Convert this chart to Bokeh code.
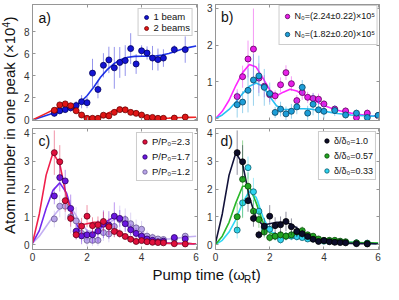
import numpy as np
from bokeh.plotting import figure
from bokeh.layouts import row, column
from bokeh.models import (LinearAxis, Range1d, Legend, LegendItem, Label,
                          FixedTicker, ColumnDataSource, CustomLabelingPolicy)
from bokeh.embed import file_html
from bokeh.resources import INLINE

# ---------------- data ----------------
# panel a
xa = [0.8, 1.0, 1.2, 1.4, 1.6, 1.8, 2.0, 2.2, 2.4, 2.6, 2.8, 3.0, 3.2, 3.4, 3.6,
      3.8, 4.0, 4.2, 4.4, 4.6, 4.8, 5.2, 5.6]
a_one = [0.6, 0.83, 0.94, 1.1, 1.31, 1.66, 1.57, 4.26, 2.77, 4.97, 5.46, 4.74, 5.23,
         5.4, 6.49, 5.09, 6.29, 6.09, 5.63, 5.49, 5.63, 6.4, 6.4]
a_one_err = [0.3, 0.3, 0.3, 0.35, 0.4, 0.6, 0.5, 1.3, 0.8, 1.1, 1.2, 1.9, 1.4, 1.4,
             1.4, 0.9, 0.5, 0.6, 1.1, 1.0, 0.8, 0.4, 1.2]
a_two = [0.88, 1.37, 1.46, 1.29, 0.83, 0.45, 0.15, 0.15, 0.15, 0.43, 0.37, 0.69, 0.94,
         0.92, 0.69, 0.6, 0.45, 0.23, 0.23, 0.15, 0.15, 0.17, 0.26]
a_two_err = [0.25, 0.2, 0.2, 0.2, 0.15, 0.1, 0.1, 0.1, 0.1, 0.1, 0.1, 0.3, 0.2, 0.15,
             0.1, 0.1, 0.1, 0.1, 0.1, 0.1, 0.1, 0.1, 0.1]

# fit curves sampled every 0.25
xf = [0.0, 0.25, 0.5, 0.75, 1.0, 1.25, 1.5, 1.75, 2.0, 2.25, 2.5, 2.75, 3.0, 3.25,
      3.5, 3.75, 4.0, 4.25, 4.5, 4.75, 5.0, 5.25, 5.5, 5.75, 6.0]
a_one_fit = [0, 0.2, 0.4, 0.6, 0.8, 1.0, 1.25, 1.6, 2.2, 3.0, 3.9, 4.6, 5.15, 5.5, 5.7,
             5.78, 5.8, 5.8, 5.82, 5.9, 6.05, 6.25, 6.45, 6.6, 6.72]
a_two_fit = [0, 0.3, 0.6, 0.9, 1.25, 1.42, 1.1, 0.55, 0.22, 0.15, 0.3, 0.6, 0.85, 0.92,
             0.82, 0.6, 0.38, 0.22, 0.16, 0.15, 0.17, 0.2, 0.22, 0.23, 0.24]

# panel b
xb = [0.8, 1.0, 1.2, 1.4, 1.6, 1.8, 2.0, 2.2, 2.4, 2.6, 2.8, 3.0, 3.2, 3.4, 3.6,
      3.8, 4.0, 4.4, 4.8, 5.2, 5.6, 6.0]
b_hi = [0.6, 1.14, 1.62, 1.89, 1.1, 0.88, 0.65, 0.62, 0.92, 1.25, 0.95, 0.49, 0.71,
        0.58, 0.55, 0.53, 0.4, 0.26, 0.21, 0.03, 0.15, 0.08]
b_hi_err = [0.2, 0.3, 0.5, 1.1, 0.4, 0.3, 0.2, 0.15, 0.2, 0.2, 0.2, 0.15, 0.2, 0.15,
            0.15, 0.15, 0.1, 0.1, 0.1, 0.1, 0.1, 0.05]
b_lo = [0.38, 0.45, 0.77, 1.05, 1.16, 0.85, 0.68, 0.17, 0.26, 0.13, 0.2, 0.32, 0.85,
        0.15, 0.39, 0.24, 0.2, 0.22, 0.1, 0.15, 0.03, 0.09]
b_lo_err = [0.35, 0.3, 0.6, 0.7, 0.55, 0.5, 0.3, 0.15, 0.2, 0.2, 0.2, 0.2, 0.2, 0.2,
            0.3, 0.3, 0.2, 0.15, 0.1, 0.1, 0.1, 0.05]
b_hi_fit = [0, 0.2, 0.5, 0.9, 1.25, 1.47, 1.4, 1.1, 0.78, 0.62, 0.72, 0.8, 0.75, 0.65,
            0.55, 0.45, 0.36, 0.29, 0.23, 0.19, 0.15, 0.12, 0.1, 0.08, 0.07]
b_lo_fit = [0, 0.1, 0.25, 0.45, 0.68, 0.88, 0.97, 0.88, 0.6, 0.35, 0.25, 0.25, 0.27,
            0.27, 0.26, 0.23, 0.2, 0.17, 0.14, 0.12, 0.1, 0.09, 0.08, 0.07, 0.07]

# panel c (and d)
xc = [0.8, 1.0, 1.2, 1.4, 1.6, 1.8, 2.0, 2.2, 2.4, 2.6, 2.8, 3.0, 3.2, 3.4, 3.6,
      3.8, 4.0, 4.2, 4.4, 4.6, 4.8, 5.2, 5.6]
c_23 = [3.31, 2.98, 1.58, 0.94, 0.35, 0.66, 1.02, 0.68, 0.71, 0.83, 0.64, 0.47, 0.39,
        0.29, 0.19, 0.11, 0.14, 0.1, 0.08, 0.07, 0.06, 0.03, 0.02]
c_23_err = [0.8, 0.6, 0.4, 0.3, 0.15, 0.3, 0.4, 0.3, 0.3, 0.35, 0.3, 0.2, 0.15, 0.1,
            0.1, 0.1, 0.1, 0.05, 0.05, 0.05, 0.05, 0.05, 0.05]
c_17 = [1.75, 2.41, 2.29, 1.3, 0.48, 0.31, 0.35, 0.35, 0.48, 0.73, 0.7, 1.02, 0.94,
        0.75, 0.53, 0.4, 0.3, 0.2, 0.15, 0.1, 0.12, 0.25, 0.2]
c_17_err = [0.3, 0.5, 0.4, 0.5, 0.3, 0.3, 0.2, 0.3, 0.4, 0.5, 0.5, 0.5, 0.3, 0.3, 0.2,
            0.2, 0.15, 0.1, 0.1, 0.1, 0.1, 0.1, 0.1]
c_12 = [0.92, 1.38, 1.38, 1.0, 0.85, 0.4, 0.15, 0.15, 0.15, 0.43, 0.38, 0.65, 0.9,
        0.9, 0.75, 0.6, 0.55, 0.3, 0.25, 0.2, 0.18, 0.2, 0.3]
c_12_err = [0.3, 0.4, 0.5, 0.6, 0.5, 0.3, 0.2, 0.2, 0.2, 0.3, 0.3, 0.4, 0.5, 0.4, 0.4,
            0.3, 0.3, 0.2, 0.15, 0.1, 0.1, 0.1, 0.1]
c_23_fit = [0.05, 1.1, 2.5, 3.3, 2.9, 1.7, 0.95, 0.7, 0.75, 0.8, 0.8, 0.75, 0.6, 0.42,
            0.28, 0.18, 0.12, 0.08, 0.06, 0.05, 0.04, 0.03, 0.03, 0.03, 0.02]
c_17_fit = [0.05, 0.5, 1.3, 1.95, 2.22, 1.85, 1.0, 0.45, 0.35, 0.4, 0.6, 0.85, 1.0,
            0.9, 0.65, 0.4, 0.22, 0.12, 0.08, 0.06, 0.05, 0.04, 0.04, 0.03, 0.02]
c_12_fit = [0.05, 0.3, 0.65, 1.0, 1.3, 1.42, 1.2, 0.8, 0.5, 0.45, 0.55, 0.75, 0.9,
            0.95, 0.85, 0.65, 0.45, 0.3, 0.22, 0.2, 0.2, 0.22, 0.25, 0.28, 0.3]

# panel d
d_10 = c_23
d_10_err = c_23_err
d_057 = [1.0, 2.35, 2.1, 1.2, 0.9, 0.45, 0.25, 0.3, 0.35, 0.3, 0.35, 0.45, 0.5, 0.35,
         0.3, 0.2, 0.15, 0.15, 0.15, 0.12, 0.1, 0.06, 0.04]
d_057_err = [0.5, 1.4, 0.5, 0.4, 0.3, 0.2, 0.15, 0.15, 0.15, 0.15, 0.15, 0.15, 0.15,
             0.1, 0.1, 0.1, 0.1, 0.1, 0.1, 0.05, 0.05, 0.05, 0.05]
d_033 = [0.52, 1.5, 2.77, 1.9, 1.2, 0.6, 0.55, 0.3, 0.17, 0.3, 0.3, 0.28, 0.25, 0.2,
         0.2, 0.15, 0.12, 0.12, 0.1, 0.1, 0.08, 0.06, 0.05]
d_033_err = [0.3, 0.5, 0.4, 0.5, 0.4, 0.3, 0.2, 0.15, 0.15, 0.15, 0.15, 0.15, 0.1,
             0.1, 0.1, 0.1, 0.1, 0.1, 0.1, 0.05, 0.05, 0.05, 0.05]
d_10_fit = c_23_fit
d_057_fit = [0, 0.3, 0.8, 1.5, 2.1, 2.1, 1.5, 0.8, 0.42, 0.32, 0.33, 0.38, 0.42, 0.4,
             0.33, 0.25, 0.18, 0.14, 0.11, 0.09, 0.08, 0.07, 0.06, 0.06, 0.05]
d_033_fit = [0, 0.15, 0.45, 0.9, 1.5, 1.93, 1.7, 1.0, 0.5, 0.35, 0.3, 0.3, 0.3, 0.28,
             0.25, 0.2, 0.16, 0.13, 0.11, 0.09, 0.08, 0.06, 0.05, 0.04, 0.04]

x_ticks = [0, 2, 4, 6]

# ---------------- styling helpers ----------------
FONT = "Liberation Sans"
FRAME = "#969696"
TICKTXT = "#333333"
INK = "#111111"
NO_LABELS = "return []"


def style_axis(ax, ticks, labels):
    ax.ticker = FixedTicker(ticks=ticks)
    ax.axis_line_color = FRAME
    ax.major_tick_line_color = FRAME
    ax.major_tick_in = 3
    ax.major_tick_out = 0
    ax.minor_tick_line_color = None
    ax.major_label_text_font = FONT
    ax.major_label_text_color = TICKTXT
    if labels:
        ax.major_label_text_font_size = "10px"
        ax.major_label_standoff = 3
    else:
        # tick marks only: no label is drawn
        ax.major_label_text_font_size = "1px"
        ax.major_label_standoff = 0
        ax.major_label_policy = CustomLabelingPolicy(code=NO_LABELS)


def panel(w, h, ylim, yticks, bl, bt, bb, show_x):
    p = figure(width=w, height=h, x_range=Range1d(0, 6.05), y_range=Range1d(*ylim),
               output_backend="svg", toolbar_location=None,
               min_border_left=bl, min_border_right=2, min_border_top=bt,
               min_border_bottom=bb)
    p.grid.visible = False
    p.outline_line_color = FRAME
    p.background_fill_color = "white"
    p.border_fill_color = "white"
    style_axis(p.xaxis[0], x_ticks, show_x)
    style_axis(p.yaxis[0], yticks, True)
    top = LinearAxis()
    style_axis(top, x_ticks, False)
    p.add_layout(top, "above")
    right = LinearAxis()
    style_axis(right, yticks, False)
    p.add_layout(right, "right")
    return p


def series(p, x, y, err, fill, edge):
    y = np.array(y, dtype=float)
    e = np.array(err, dtype=float)
    src = ColumnDataSource(dict(x=x, y=y, lo=y - e, hi=y + e))
    p.segment(x0="x", y0="lo", x1="x", y1="hi", source=src, line_color=fill,
              line_alpha=0.45, line_width=1)
    return p.scatter("x", "y", source=src, size=6, fill_color=fill, line_color=edge,
                     line_width=0.8)


def fit(p, y, color):
    p.line(xf, y, line_color=color, line_width=1.6)


def legend(p, items, fs, row_h, spacing, margin):
    lg = Legend(items=[LegendItem(label=l, renderers=[r]) for l, r in items],
                location="top_right", margin=margin, padding=2, spacing=spacing,
                glyph_width=11, glyph_height=row_h, label_height=row_h,
                label_width=0, label_standoff=2, label_text_font=FONT,
                label_text_font_size=fs,
                label_text_color=INK, border_line_color="#9a9a9a",
                border_line_width=1, background_fill_alpha=1.0)
    p.add_layout(lg)


def tag(p, x, y, text):
    p.add_layout(Label(x=x, y=y, text=text, text_font=FONT, text_font_size="14px",
                       text_baseline="middle", text_color=INK))


# ---------------- panels ----------------
TOP_H, BOT_H = 124, 141
YW = 20
LW, RW = 181, 182

pa = panel(LW, TOP_H, (-0.05, 10.5), [0, 2, 4, 6, 8], 11, 1, 4, False)
fit(pa, a_one_fit, "#1f34e8")
fit(pa, a_two_fit, "#f02424")
ra1 = series(pa, xa, a_one, a_one_err, "#1414d4", "#00005a")
ra2 = series(pa, xa, a_two, a_two_err, "#e01616", "#6a0000")
legend(pa, [("1 beam", ra1), ("2 beams", ra2)], "9.5px", 10, 0, 4)
tag(pa, 0.22, 9.3, "a)")

pb = panel(RW, TOP_H, (-0.05, 3.1), [0, 1, 2, 3], 14, 1, 4, False)
fit(pb, b_hi_fit, "#ff26ff")
fit(pb, b_lo_fit, "#28c0f2")
rb1 = series(pb, xb, b_hi, b_hi_err, "#e81ee8", "#5a005a")
rb2 = series(pb, xb, b_lo, b_lo_err, "#1c9ed8", "#08405e")
legend(pb, [("N\u2080=(2.24\u00b10.22)\u00d710\u2075", rb1),
            ("N\u2080=(1.82\u00b10.20)\u00d710\u2075", rb2)], "9px", 16, 2, 1)
tag(pb, 0.2, 2.76, "b)")

pc = panel(LW, BOT_H, (-0.18, 4.18), [0, 1, 2, 3, 4], 11, 3, 16, True)
fit(pc, c_12_fit, "#c4b0f2")
fit(pc, c_17_fit, "#7228ee")
fit(pc, c_23_fit, "#f0204c")
rc3 = series(pc, xc, c_12, c_12_err, "#b8a4e8", "#6a5a90")
rc2 = series(pc, xc, c_17, c_17_err, "#6a18e0", "#2a0060")
rc1 = series(pc, xc, c_23, c_23_err, "#e0103c", "#600018")
legend(pc, [("P/P\u2080=2.3", rc1), ("P/P\u2080=1.7", rc2), ("P/P\u2080=1.2", rc3)],
       "9.5px", 13, 2, 4)
tag(pc, 0.22, 3.72, "c)")

pd_ = panel(RW, BOT_H, (-0.18, 4.18), [0, 1, 2, 3, 4], 14, 3, 16, True)
fit(pd_, d_033_fit, "#30d8f4")
fit(pd_, d_057_fit, "#2ab82a")
fit(pd_, d_10_fit, "#12123a")
rd3 = series(pd_, xc, d_033, d_033_err, "#30d4f0", "#0a5a6a")
rd2 = series(pd_, xc, d_057, d_057_err, "#22a522", "#0a4a0a")
rd1 = series(pd_, xc, d_10, d_10_err, "#0c0c2a", "#000000")
legend(pd_, [("\u03b4/\u03b4\u2080=1.0", rd1), ("\u03b4/\u03b4\u2080=0.57", rd2),
             ("\u03b4/\u03b4\u2080=0.33", rd3)], "9px", 13, 2, 3)
tag(pd_, 0.18, 3.72, "d)")

# ---------------- common axis titles ----------------
TOTAL_H = TOP_H + BOT_H + 19
ylab = figure(width=YW, height=TOTAL_H, x_range=Range1d(0, YW),
              y_range=Range1d(0, TOTAL_H), output_backend="svg",
              toolbar_location=None, min_border=0)
ylab.axis.visible = False
ylab.grid.visible = False
ylab.outline_line_color = None
# rotated title built from pieces so the exponent is a real superscript
yc = TOTAL_H - 125          # vertical centre of the two panel rows
y_start = yc - 108.5
xm = 9.0
ylab.add_layout(Label(x=xm, y=y_start, text="Atom number in one peak (\u00d710",
                      angle=np.pi / 2, text_align="left", text_baseline="middle",
                      text_font=FONT, text_font_size="15px", text_color=INK))
ylab.add_layout(Label(x=xm - 4, y=y_start + 206.5, text="4",
                      angle=np.pi / 2, text_align="left", text_baseline="middle",
                      text_font=FONT, text_font_size="10px", text_color=INK))
ylab.add_layout(Label(x=xm, y=y_start + 212.5, text=")",
                      angle=np.pi / 2, text_align="left", text_baseline="middle",
                      text_font=FONT, text_font_size="15px", text_color=INK))

XW = LW + RW
xlab = figure(width=XW, height=19, x_range=Range1d(0, XW), y_range=Range1d(0, 19),
              output_backend="svg", toolbar_location=None, min_border=0)
xlab.axis.visible = False
xlab.grid.visible = False
xlab.outline_line_color = None
x0 = 132
xlab.add_layout(Label(x=x0, y=10, text="Pump time (\u03c9", text_font=FONT,
                      text_font_size="15px", text_baseline="middle",
                      text_color=INK))
xlab.add_layout(Label(x=x0 + 91.5, y=5, text="R", text_font=FONT,
                      text_font_size="10px", text_baseline="middle",
                      text_color=INK))
xlab.add_layout(Label(x=x0 + 99, y=10, text="t)", text_font=FONT,
                      text_font_size="15px", text_baseline="middle",
                      text_color=INK))

layout = row(ylab, column(row(pa, pb), row(pc, pd_), xlab))

open("out.html", "w").write(file_html(layout, INLINE))
